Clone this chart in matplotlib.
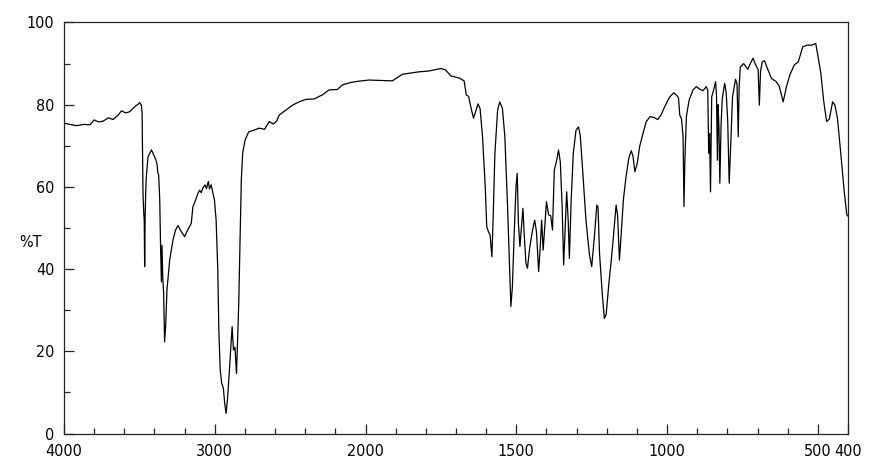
import numpy as np
import matplotlib
matplotlib.use("Agg")
import matplotlib.pyplot as plt
from matplotlib.ticker import FixedLocator, FixedFormatter, NullFormatter

plt.rcParams['font.family'] = ['DejaVu Sans']
plt.rcParams['font.stretch'] = 'condensed'

# --- data: wavenumber (cm-1) and %T ---
wavenumber = [
    4000, 3960, 3916, 3870, 3828, 3800, 3770, 3740, 3707, 3674, 3640, 3619, 3590, 3564,
    3531, 3505, 3498, 3487, 3482, 3478, 3476, 3471, 3468, 3465, 3462, 3457, 3454, 3443,
    3420, 3399, 3390, 3383, 3378, 3372, 3365, 3359, 3354, 3350, 3345, 3339, 3333, 3326,
    3317, 3299, 3277, 3260, 3244, 3220, 3200, 3180, 3156, 3145, 3130, 3112, 3100, 3090,
    3079, 3065, 3055, 3046, 3042, 3035, 3024, 3015, 3002, 2991, 2980, 2973, 2964, 2954,
    2943, 2934, 2925, 2916, 2907, 2896, 2885, 2876, 2866, 2856, 2850, 2841, 2832, 2824,
    2815, 2799, 2775, 2740, 2705, 2670, 2638, 2612, 2590, 2572, 2528, 2484, 2440, 2396,
    2341, 2286, 2242, 2187, 2154, 2099, 2050, 2000,
    1989, 1950, 1911, 1878, 1823, 1790, 1751, 1735, 1717, 1690, 1673, 1666, 1658, 1651,
    1642, 1634, 1627, 1620, 1612, 1603, 1598, 1592, 1587, 1581, 1577, 1571, 1562, 1555,
    1546, 1538, 1529, 1524, 1518, 1513, 1507, 1501, 1497, 1493, 1488, 1483, 1478, 1474,
    1468, 1463, 1455, 1446, 1439, 1433, 1426, 1421, 1416, 1411, 1405, 1400, 1393, 1386,
    1380, 1374, 1366, 1360, 1354, 1348, 1343, 1338, 1333, 1328, 1324, 1318, 1311, 1302,
    1294, 1288, 1280, 1269, 1258, 1250, 1241, 1233, 1229, 1224, 1215, 1208, 1202, 1193,
    1185, 1178, 1169, 1164, 1158, 1152, 1145, 1136, 1127, 1119, 1113, 1107, 1099, 1091,
    1080, 1069, 1056, 1044, 1031, 1020, 1008, 992, 978, 968, 962, 958, 952, 947,
    944, 941, 936, 927, 914, 903, 892, 881, 870, 865, 862, 859, 856, 852,
    846, 839, 836, 833, 831, 828, 825, 821, 817, 809, 804, 799, 794, 790,
    783, 773, 768, 764, 761, 757, 746, 732, 724, 715, 705, 698, 694, 690,
    684, 677, 665, 654, 638, 628, 615, 604, 593, 578, 565, 550, 535, 520,
    507, 500, 490, 481, 471, 462, 451, 443, 435, 424, 413, 404, 400,
]
transmittance = [
    75.5, 75.2, 74.9, 75.2, 75.1, 76.3, 75.8, 76.0, 76.8, 76.4, 77.5, 78.5, 78.0, 78.3,
    79.5, 80.2, 80.5, 79.9, 78.0, 65.0, 58.4, 53.6, 52.0, 40.6, 52.8, 60.0, 62.5, 67.3,
    69.0, 67.3, 66.5, 65.5, 63.5, 62.9, 56.8, 44.6, 36.9, 45.8, 38.0, 34.1, 22.3, 26.0,
    35.0, 42.2, 47.1, 49.5, 50.6, 49.0, 47.9, 49.5, 51.1, 55.2, 56.5, 58.4, 59.2, 58.6,
    59.7, 60.5, 59.6, 60.9, 61.3, 59.5, 60.5, 59.0, 56.8, 51.9, 39.8, 25.2, 15.5, 12.2,
    11.0, 7.3, 4.9, 8.2, 13.0, 19.5, 26.0, 20.3, 21.0, 14.6, 21.1, 31.7, 47.9, 61.7,
    68.2, 71.4, 73.4, 73.8, 74.3, 74.0, 75.9, 75.3, 76.0, 77.5, 78.7, 79.9, 80.7, 81.3,
    81.4, 82.4, 83.6, 83.7, 84.8, 85.4, 85.7, 85.9,
    86.0, 85.9, 85.8, 87.4, 88.0, 88.2, 88.8, 88.5, 87.0, 86.5, 85.8, 82.4, 82.0, 79.5,
    76.7, 78.5, 80.2, 79.0, 72.2, 60.0, 50.3, 49.0, 48.3, 43.0, 51.9, 68.2, 78.7, 80.7,
    79.1, 72.2, 55.2, 43.8, 30.9, 35.7, 48.7, 60.0, 63.3, 51.1, 45.5, 50.0, 54.8, 48.7,
    41.4, 40.2, 45.5, 49.5, 51.9, 49.0, 39.4, 45.0, 51.9, 44.6, 51.1, 56.4, 53.2, 53.0,
    49.5, 64.1, 66.5, 69.0, 66.0, 55.2, 41.0, 50.0, 58.8, 52.0, 42.6, 56.8, 68.2, 73.8,
    74.6, 72.6, 64.1, 51.9, 43.8, 40.6, 47.9, 55.6, 55.0, 43.8, 34.1, 28.0, 29.0, 36.5,
    42.2, 47.9, 55.6, 53.0, 42.2, 48.7, 56.8, 62.5, 67.0, 68.8, 67.5, 63.7, 65.7, 69.8,
    73.0, 75.9, 77.1, 76.9, 76.4, 77.5, 79.5, 81.8, 82.9, 82.3, 81.6, 77.5, 76.5, 72.2,
    55.2, 66.5, 77.1, 81.1, 83.6, 84.4, 83.8, 83.4, 84.4, 83.5, 68.2, 73.0, 58.8, 81.9,
    83.5, 85.6, 82.0, 66.5, 80.0, 74.6, 60.9, 75.0, 81.5, 85.2, 83.0, 76.3, 60.9, 68.2,
    81.9, 86.2, 85.0, 72.2, 84.4, 89.2, 90.0, 88.6, 90.0, 91.3, 89.5, 88.5, 79.9, 88.2,
    90.5, 90.7, 88.4, 86.4, 85.6, 84.5, 80.7, 84.4, 87.2, 89.7, 90.4, 94.1, 94.5, 94.5,
    94.9, 92.0, 87.6, 81.1, 75.9, 76.5, 80.7, 79.8, 76.7, 68.2, 59.2, 53.2, 52.9,
]

major_ticks = [4000, 3000, 2000, 1500, 1000, 500, 400]
major_labels = ['4000', '3000', '2000', '1500', '1000', '500', '400']
minor_ticks = ([w for w in range(3800, 2000, -200) if w != 3000] +
               [w for w in range(1900, 400, -100) if w not in (1500, 1000, 500)])
y_major = [0, 20, 40, 60, 80, 100]
y_minor = [10, 30, 50, 70, 90]


# IR scale: 4000-2000 compressed 2x relative to 2000-400
def fwd(w):
    w = np.asarray(w, dtype=float)
    return np.where(w >= 2000, w / 2.0 + 1000.0, w)


def inv(u):
    u = np.asarray(u, dtype=float)
    return np.where(u >= 2000, 2.0 * (u - 1000.0), u)


fig = plt.figure(figsize=(8.74, 4.61), dpi=100)
ax = fig.add_axes([64 / 874, 1 - 433.5 / 461, (848 - 64) / 874, (433.5 - 22.5) / 461])
ax.set_xscale('function', functions=(fwd, inv))
ax.plot(wavenumber, transmittance, color='black', lw=0.9)
ax.set_xlim(4000, 400)
ax.set_ylim(0, 100)

ax.xaxis.set_major_locator(FixedLocator(major_ticks))
ax.xaxis.set_major_formatter(FixedFormatter(major_labels))
ax.xaxis.set_minor_locator(FixedLocator(minor_ticks))
ax.xaxis.set_minor_formatter(NullFormatter())
ax.yaxis.set_major_locator(FixedLocator(y_major))
ax.yaxis.set_minor_locator(FixedLocator(y_minor))
ax.yaxis.set_minor_formatter(NullFormatter())

ax.tick_params(which='both', direction='in', color='#222222', width=0.9,
               labelsize=11.5, top=False, right=False)
ax.tick_params(which='major', length=7)
ax.tick_params(which='minor', length=4)
ax.tick_params(axis='x', pad=7.5)
ax.tick_params(axis='y', pad=7)
for s in ax.spines.values():
    s.set_linewidth(0.9)
    s.set_color('#222222')

fig.text(30 / 874, 1 - 242 / 461, '%T', fontsize=11.5, ha='center', va='center')

fig.savefig('out.png', dpi=100)
